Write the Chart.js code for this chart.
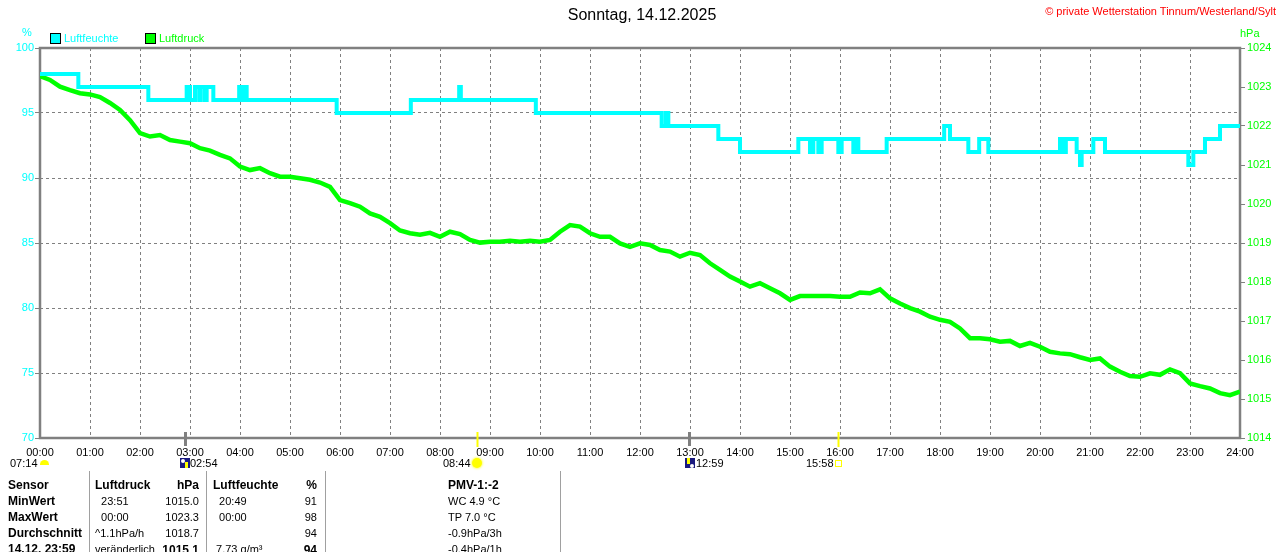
<!DOCTYPE html>
<html lang="de">
<head>
<meta charset="utf-8">
<title>Sonntag, 14.12.2025</title>
<script src="https://cdn.jsdelivr.net/npm/chart.js@4.4.1/dist/chart.umd.min.js"></script>
<style>
  html, body { margin: 0; padding: 0; background: #fff; }
  #wrap { position: relative; width: 1280px; height: 552px; overflow: hidden;
          font-family: "Liberation Sans", Arial, sans-serif; color: #000; }
  #chart { position: absolute; left: 0; top: 0; }
  .t { position: absolute; white-space: nowrap; line-height: 1; font-size: 11px; }
  .b { font-weight: bold; font-size: 12px; }
  .r { text-align: right; }
  .sep { position: absolute; top: 471px; width: 1px; height: 81px; background: #a0a0a0; }
  .box { position: absolute; width: 9px; height: 9px; border: 1px solid #000; }
</style>
</head>
<body>
<div id="wrap">
  <canvas id="chart" width="1280" height="472"></canvas>
</div>
<script>
// Zeitachse in Minuten ab 00:00
const dayMinutes = 1440;

// Luftfeuchte (%) - Stufenwerte: Zeitpunkt des Wechsels und neuer Wert
const humTimes = [0, 46, 130, 176, 180, 186, 191, 193, 198, 200, 208, 239, 241, 244, 248,
  356, 445, 503, 505, 595, 746, 751, 754, 814, 840, 910, 924, 928, 934, 938, 958, 962,
  976, 979, 982, 1016, 1085, 1092, 1114, 1127, 1138, 1224, 1228, 1231, 1244, 1248, 1250,
  1264, 1278, 1378, 1384, 1398, 1416, 1440];
const humValues = [98, 97, 96, 97, 96, 97, 96, 97, 96, 97, 96, 97, 96, 97, 96,
  95, 96, 97, 96, 95, 94, 95, 94, 93, 92, 93, 92, 93, 92, 93, 92, 93,
  92, 93, 92, 93, 94, 93, 92, 93, 92, 93, 92, 93, 92, 91, 92,
  93, 92, 91, 92, 93, 94, 94];

const pressureStep = 12;
const pressureValues = [
  1023.28, 1023.18, 1023.01, 1022.92, 1022.84, 1022.81, 1022.74, 1022.59, 1022.41, 1022.15,
  1021.82, 1021.73, 1021.77, 1021.64, 1021.60, 1021.56, 1021.43, 1021.37, 1021.26, 1021.17,
  1020.96, 1020.87, 1020.92, 1020.79, 1020.70, 1020.70, 1020.66, 1020.62, 1020.55, 1020.44,
  1020.10, 1020.02, 1019.93, 1019.76, 1019.67, 1019.51, 1019.32, 1019.25, 1019.21, 1019.26,
  1019.16, 1019.29, 1019.23, 1019.08, 1019.01, 1019.03, 1019.03, 1019.06, 1019.03, 1019.06,
  1019.03, 1019.08, 1019.29, 1019.46, 1019.42, 1019.25, 1019.16, 1019.16, 1018.99, 1018.90,
  1018.99, 1018.95, 1018.82, 1018.78, 1018.65, 1018.75, 1018.69, 1018.48, 1018.31, 1018.14,
  1018.01, 1017.88, 1017.97, 1017.84, 1017.71, 1017.54, 1017.64, 1017.64, 1017.64, 1017.64,
  1017.62, 1017.62, 1017.73, 1017.71, 1017.81, 1017.58, 1017.45, 1017.33, 1017.24, 1017.11,
  1017.03, 1016.98, 1016.81, 1016.56, 1016.56, 1016.53, 1016.47, 1016.49, 1016.36, 1016.44,
  1016.34, 1016.21, 1016.17, 1016.15, 1016.07, 1016.00, 1016.04, 1015.83, 1015.70, 1015.59,
  1015.57, 1015.66, 1015.62, 1015.76, 1015.66, 1015.40, 1015.33, 1015.27, 1015.15, 1015.10,
  1015.19
];

// Sonne / Mond (Minuten)
const sunMarks = [524, 958];     // 08:44, 15:58
const moonMarks = [174, 779];    // 02:54, 12:59

// Tabelle unten
const tableRows = [
  ['Sensor', 'Luftdruck', 'hPa', 'Luftfeuchte', '%', 'PMV-1:-2'],
  ['MinWert', '  23:51', '1015.0', '  20:49', '91', 'WC 4.9 °C'],
  ['MaxWert', '  00:00', '1023.3', '  00:00', '98', 'TP 7.0 °C'],
  ['Durchschnitt', '^1.1hPa/h', '1018.7', '', '94', '-0.9hPa/3h'],
  ['14.12. 23:59', 'veränderlich', '1015.1', ' 7.73 g/m³', '94', '-0.4hPa/1h']
];

const CYAN = '#00ffff';
const GREEN = '#00ff00';
const GRAY = '#808080';

const wrap = document.getElementById('wrap');

function addText(txt, x, y, cls, color, align) {
  const el = document.createElement('div');
  el.className = 't' + (cls ? ' ' + cls : '');
  el.textContent = txt;
  el.style.top = y + 'px';
  if (align === 'right') {
    el.style.right = (1280 - x) + 'px';
    el.style.textAlign = 'right';
  } else if (align === 'center') {
    el.style.left = (x - 200) + 'px';
    el.style.width = '400px';
    el.style.textAlign = 'center';
  } else {
    el.style.left = x + 'px';
  }
  if (color) el.style.color = color;
  el.style.whiteSpace = 'pre';
  wrap.appendChild(el);
  return el;
}

function addBox(x, y, color) {
  const el = document.createElement('div');
  el.className = 'box';
  el.style.left = x + 'px';
  el.style.top = y + 'px';
  el.style.background = color;
  wrap.appendChild(el);
}

// Kopfzeile, Legende, Einheiten
const title = addText('Sonntag, 14.12.2025', 642, 7, '', '#000', 'center');
title.style.fontSize = '16px';
addText('© private Wetterstation Tinnum/Westerland/Sylt', 1276, 6, '', '#ff0000', 'right');
addBox(50, 33, CYAN);
addText('Luftfeuchte', 64, 33, '', CYAN);
addBox(145, 33, GREEN);
addText('Luftdruck', 159, 33, '', GREEN);
addText('%', 22, 27, '', CYAN);
addText('hPa', 1240, 28, '', GREEN);

// Sonne / Mond Zeile
addText('07:14', 10, 458);
const dawn = document.createElement('div');
dawn.style.cssText = 'position:absolute;left:40px;top:460px;width:9px;height:5px;background:#ffff00;border-radius:5px 5px 0 0;';
wrap.appendChild(dawn);
const moonUp = document.createElement('div');
moonUp.style.cssText = 'position:absolute;left:180px;top:458px;width:10px;height:10px;background:#1a1a80;';
moonUp.innerHTML = '<div style="position:absolute;left:1px;top:1px;width:4px;height:4px;border-radius:2px;background:#fff"></div><div style="position:absolute;left:5px;top:4px;width:3px;height:6px;background:#ffff00"></div>';
wrap.appendChild(moonUp);
addText('02:54', 190, 458);
addText('08:44', 443, 458);
const sun = document.createElement('div');
sun.style.cssText = 'position:absolute;left:472px;top:458px;width:10px;height:10px;border-radius:5px;background:#ffff00;box-shadow:0 0 2px 1px #ffff80;';
wrap.appendChild(sun);
const moonDown = document.createElement('div');
moonDown.style.cssText = 'position:absolute;left:685px;top:458px;width:10px;height:10px;background:#1a1a80;';
moonDown.innerHTML = '<div style="position:absolute;left:2px;top:0px;width:3px;height:6px;background:#ffff00"></div><div style="position:absolute;left:5px;top:6px;width:4px;height:4px;border-radius:2px;background:#fff"></div>';
wrap.appendChild(moonDown);
addText('12:59', 696, 458);
addText('15:58', 806, 458);
const dusk = document.createElement('div');
dusk.style.cssText = 'position:absolute;left:835px;top:460px;width:5px;height:5px;border:1px solid #ffff00;';
wrap.appendChild(dusk);

// Tabelle
const rowY = [479, 495, 511, 527, 543];
[89, 206, 325, 560].forEach(x => {
  const s = document.createElement('div');
  s.className = 'sep';
  s.style.left = x + 'px';
  wrap.appendChild(s);
});
tableRows.forEach((row, i) => {
  const y = rowY[i];
  const head = i === 0;
  addText(row[0], 8, y, 'b');
  addText(row[1], 95, y + (head ? 0 : 1), head ? 'b' : '');
  addText(row[2], 199, y + (head ? 0 : 1), (head || i === 4) ? 'b' : '', null, 'right');
  addText(row[3], 213, y + (head ? 0 : 1), head ? 'b' : '');
  addText(row[4], 317, y + (head ? 0 : 1), (head || i === 4) ? 'b' : '', null, 'right');
  addText(row[5], 448, y + (head ? 0 : 1), head ? 'b' : '');
});

// Rahmen und Sonne/Mond-Markierungen
const framePlugin = {
  id: 'frame',
  beforeDatasetsDraw(chart) {
    const { ctx, chartArea: a } = chart;
    ctx.save();
    ctx.strokeStyle = GRAY;
    ctx.lineWidth = 2.5;
    ctx.strokeRect(a.left, a.top, a.right - a.left, a.bottom - a.top);
    ctx.restore();
  },
  afterDraw(chart) {
    const { ctx, chartArea: a } = chart;
    const xs = chart.scales.x;
    ctx.save();
    ctx.lineWidth = 2;
    ctx.strokeStyle = '#ffff00';
    sunMarks.forEach(t => {
      const px = Math.round(xs.getPixelForValue(t)) + 0.5;
      ctx.beginPath(); ctx.moveTo(px, a.bottom - 6); ctx.lineTo(px, a.bottom + 9); ctx.stroke();
    });
    ctx.lineWidth = 3;
    ctx.strokeStyle = GRAY;
    moonMarks.forEach(t => {
      const px = Math.round(xs.getPixelForValue(t)) + 0.5;
      ctx.beginPath(); ctx.moveTo(px, a.bottom - 6); ctx.lineTo(px, a.bottom + 8); ctx.stroke();
    });
    ctx.restore();
  }
};

const humData = humTimes.map((t, i) => ({ x: t, y: humValues[i] }));
const pressureData = pressureValues.map((v, i) => ({ x: i * pressureStep, y: v }));

const tickFont = { family: '"Liberation Sans", Arial, sans-serif', size: 11 };

new Chart(document.getElementById('chart'), {
  type: 'line',
  data: {
    datasets: [
      {
        label: 'Luftfeuchte',
        data: humData,
        yAxisID: 'h',
        borderColor: CYAN,
        backgroundColor: CYAN,
        borderWidth: 4,
        stepped: true,
        pointRadius: 0
      },
      {
        label: 'Luftdruck',
        data: pressureData,
        yAxisID: 'p',
        borderColor: GREEN,
        backgroundColor: GREEN,
        borderWidth: 4.5,
        pointRadius: 0,
        tension: 0
      }
    ]
  },
  options: {
    responsive: false,
    animation: false,
    events: [],
    layout: { padding: { top: 48, left: 0, right: 0, bottom: 0 } },
    plugins: {
      legend: { display: false },
      title: { display: false },
      tooltip: { enabled: false }
    },
    scales: {
      x: {
        type: 'linear',
        min: 0,
        max: dayMinutes,
        afterFit: s => { s.height = 34; },
        ticks: {
          stepSize: 60,
          padding: 8,
          color: '#000',
          font: tickFont,
          maxRotation: 0,
          autoSkip: false,
          callback: v => String(v / 60).padStart(2, '0') + ':00'
        },
        grid: { color: GRAY, lineWidth: 1, drawTicks: false },
        border: { display: false, dash: [3, 3] }
      },
      h: {
        type: 'linear',
        position: 'left',
        min: 70,
        max: 100,
        afterFit: s => { s.width = 40; },
        ticks: { stepSize: 5, padding: 1, color: CYAN, font: tickFont, callback: v => String(v) },
        grid: { color: GRAY, lineWidth: 1, drawTicks: true, tickLength: 5, tickColor: GRAY },
        border: { display: false, dash: [3, 3] }
      },
      p: {
        type: 'linear',
        position: 'right',
        min: 1014,
        max: 1024,
        afterFit: s => { s.width = 40; },
        ticks: { stepSize: 1, padding: 2, color: GREEN, font: tickFont, callback: v => String(v) },
        grid: { drawOnChartArea: false, color: GRAY, drawTicks: true, tickLength: 5 },
        border: { display: false }
      }
    }
  },
  plugins: [framePlugin]
});
</script>
</body>
</html>
